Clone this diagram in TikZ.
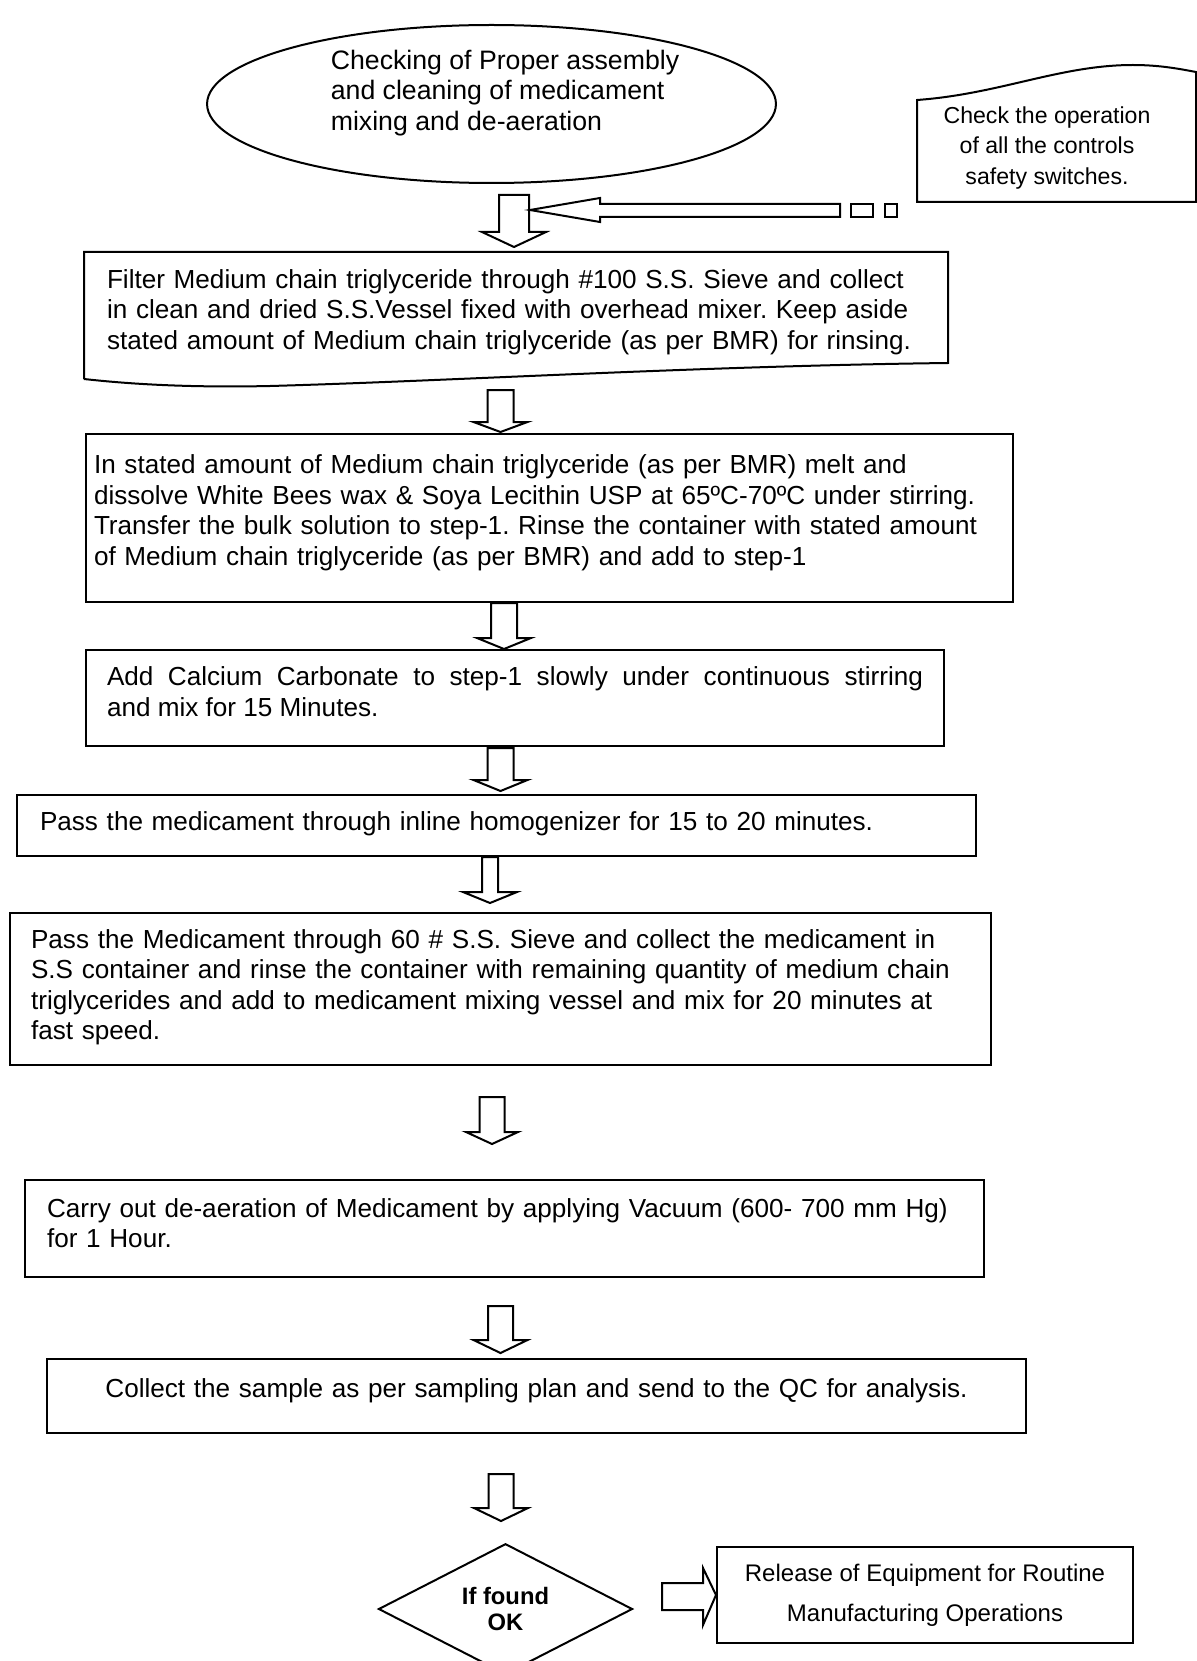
\documentclass[tikz,border=0pt]{standalone}
\usepackage{fontspec}
\setmainfont{Liberation Sans}
\usetikzlibrary{shapes.geometric}
\frenchspacing

\newcommand{\downblock}[6]{%
  \draw[blockline] (#1-#5,#2) -- (#1+#5,#2) -- (#1+#5,#3) -- (#1+#6,#3)
    -- (#1,#4) -- (#1-#6,#3) -- (#1-#5,#3) -- cycle;}
\newcommand{\textlift}[1]{\par\kern#1\relax}

\begin{document}
\begin{tikzpicture}[x=0.45pt,y=-0.45pt,
    every node/.style={inner sep=0pt,font=\fontsize{11.75}{13.7}\selectfont},
    stepbox/.style={draw,line width=0.9pt,anchor=north west,align=left},
    lift/.style={execute at end node={\textlift{#1}}},
    blockline/.style={draw,line width=0.9pt,line join=miter}]
    \useasboundingbox (0,0) rectangle (1197,1661);

    \node [draw,ellipse,line width=0.9pt,minimum width=256pt,minimum height=71.1pt] (start) at (491.5,104) {};
    \node [align=left,font=\fontsize{12}{13.7}\selectfont] (starttext) at (505,93) {Checking of Proper assembly\\and cleaning of medicament\\mixing and de-aeration};

    \draw [line width=0.9pt] (917,202) -- (917,100) .. controls (1000,94) and (1060,65) .. (1133,65)
        .. controls (1160,65) and (1180,69) .. (1196,72) -- (1196,202) -- cycle;
    \node [align=center,font=\fontsize{10.4}{13.7}\selectfont] (controls) at (1047,148) {Check the operation\\of all the controls\\safety switches.};

    \draw [blockline] (530,210) -- (600,198) -- (600,204) -- (840,204) -- (840,217) -- (600,217) -- (600,222) -- cycle;
    \draw [line width=0.9pt] (851,204) rectangle (873,217);
    \draw [line width=0.9pt] (885,204) rectangle (897,217);
    \downblock{514}{195}{232}{247}{15}{32}

    \draw [line width=0.9pt] (84,379) -- (84,252) -- (948,252) -- (948,363)
        .. controls (700,366) and (450,381) .. (270,386) .. controls (180,388) and (120,383) .. (84,379);
    \node [stepbox,draw=none,lift=0.9pt,minimum height=54pt,inner xsep=9.9pt,text width=369pt] (filter) at (84,252)
        {Filter Medium chain triglyceride through \#100 S.S. Sieve and collect\\in clean and dried S.S.Vessel fixed with overhead mixer. Keep aside\\stated amount of Medium chain triglyceride (as per BMR) for rinsing.};
    \downblock{500.5}{390}{422}{432}{13}{27}

    \node [stepbox,lift=4.8pt,minimum height=75.6pt,inner xsep=3.6pt,text width=409.95pt] (melt) at (85,433)
        {In stated amount of Medium chain triglyceride (as per BMR) melt and\\dissolve White Bees wax \& Soya Lecithin USP at 65ºC-70ºC under stirring.\\Transfer the bulk solution to step-1. Rinse the container with stated amount\\of Medium chain triglyceride (as per BMR) and add to step-1};
    \downblock{504}{603}{638}{649}{13}{27}

    \node [stepbox,align=justify,lift=5.7pt,minimum height=43.2pt,inner xsep=9.45pt,text width=367.2pt] (calcium) at (85,649)
        {Add Calcium Carbonate to step-1 slowly under continuous stirring\linebreak and mix for 15 Minutes.};
    \downblock{500.5}{748}{780}{791}{13}{27}

    \node [stepbox,lift=1.9pt,minimum height=27.45pt,inner xsep=10.35pt,text width=410.85pt] (homogenize) at (16,794)
        {Pass the medicament through inline homogenizer for 15 to 20 minutes.};
    \downblock{490}{857}{892}{903}{8}{27}

    \node [stepbox,lift=1.4pt,minimum height=68.4pt,inner xsep=9.7pt,text width=422.3pt] (sieve) at (8.5,912)
        {Pass the Medicament through 60 \# S.S. Sieve and collect the medicament in\\S.S container and rinse the container with remaining quantity of medium chain\\triglycerides and add to medicament mixing vessel and mix for 20 minutes at\\fast speed.};
    \downblock{492}{1097}{1132}{1144}{12.5}{26}

    \node [stepbox,lift=4.8pt,minimum height=43.65pt,inner xsep=9.9pt,text width=411.75pt] (vacuum) at (24,1179)
        {Carry out de-aeration of Medicament by applying Vacuum (600- 700 mm Hg)\\for 1 Hour.};
    \downblock{500.5}{1306}{1340}{1353}{12.5}{27}

    \node [stepbox,align=center,lift=4.8pt,minimum height=33.3pt,text width=440.55pt] (sample) at (46,1358)
        {Collect the sample as per sampling plan and send to the QC for analysis.};
    \downblock{501}{1474}{1508}{1521}{12.5}{27}

    \node [draw,diamond,line width=0.9pt,minimum width=114.3pt,minimum height=53.1pt,align=center,
        font=\fontsize{10.7}{11.7}\selectfont\bfseries] (found) at (505.5,1609) {If found\\OK};
    \node [draw,line width=0.9pt,minimum width=187.2pt,minimum height=43.2pt,align=center,
        font=\fontsize{10.8}{18}\selectfont] (release) at (925,1595)
        {Release of Equipment for Routine\\Manufacturing Operations};
    \draw [blockline] (release.west) -- (703,1568) -- (703,1583) -- (662,1583) -- (662,1610) -- (703,1610) -- (703,1625) -- cycle;
\end{tikzpicture}
\end{document}
